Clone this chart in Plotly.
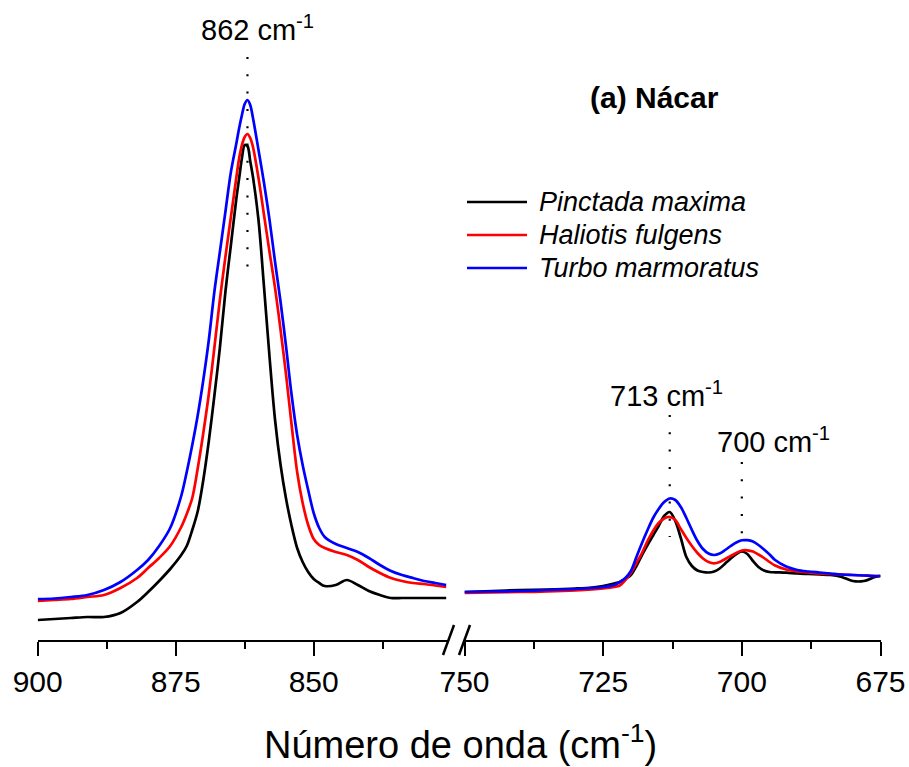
import plotly.graph_objects as go

# ---------------------------------------------------------------
# FTIR spectra of nacre (v2 carbonate region), broken wavenumber axis
# Left window: 900-826 cm-1, right window: 750-675 cm-1
# Intensities in arbitrary units
# ---------------------------------------------------------------

series_names = ["Pinctada maxima", "Haliotis fulgens", "Turbo marmoratus"]
series_colors = ["#000000", "#ff0000", "#0000ff"]

# --- left window (900-826 cm-1), common wavenumber grid ---
wn_left = [900, 897, 894, 891, 888, 885, 882, 880, 878, 876,
           874, 873, 872, 871, 870, 869, 868, 867, 866, 865,
           864, 863.5, 863, 862.5, 862, 861.5, 861, 860, 859, 858,
           857, 856, 855, 854, 853, 852, 851, 850, 849, 848,
           846, 844, 842, 840, 838, 836, 834, 832, 830, 828, 826]

int_left_pm = [20, 21, 22, 23, 23, 27, 38, 48, 59, 71,
               85, 94, 110, 129, 160, 199, 244, 292, 348, 395,
               442, 462, 482, 495, 494, 479, 463, 420, 353, 283,
               220, 175, 141, 114, 92, 78, 68, 61, 57, 54,
               55, 60, 55, 49, 45, 42, 42, 42, 42, 42, 42]

int_left_hf = [39, 40, 41, 43, 45, 52, 62, 72, 82, 94,
               113, 126, 142, 172, 207, 246, 292, 340, 383, 423,
               463, 482, 495, 503, 506, 502, 493, 462, 425, 388,
               352, 310, 265, 215, 168, 137, 115, 101, 95, 92,
               88, 85, 80, 73, 67, 62, 59, 57, 56, 54.5, 53]

int_left_tm = [41, 41.5, 43, 45, 50, 58, 70, 80, 94, 112,
               144, 168, 195, 225, 260, 300, 348, 388, 428, 468,
               497, 512, 525, 536, 540, 535, 522, 490, 457, 420,
               378, 338, 293, 245, 205, 175, 150, 127, 112, 103,
               96, 92, 88, 82, 75, 69, 65, 62, 59, 57, 55]

# --- right window (750-675 cm-1), common wavenumber grid ---
wn_right = [750, 745, 740, 735, 730, 727, 725, 723, 722, 721,
            720, 719, 718, 717, 716, 715, 714, 713, 712, 711,
            710, 709, 708, 707, 706, 705, 704, 703, 702, 701,
            700, 699, 698, 697, 696, 695, 694, 692, 690, 688,
            686, 684, 682, 680, 678, 676, 675]

int_right_pm = [48, 49, 50, 50.5, 51.5, 52.5, 54, 56.5, 58, 61,
                65, 74, 85, 95, 104.5, 114, 124, 128, 119, 102,
                83, 74, 69.5, 68, 67.5, 68.5, 71.5, 76.5, 81.5, 86,
                88.5, 86, 79, 73, 69.5, 68, 67.7, 67.3, 66.5, 66,
                65.5, 65, 63, 59, 59, 63, 64]

int_right_hf = [47, 47.5, 48, 48.5, 49.5, 50.5, 51.5, 53, 54.5, 60,
                67, 77, 87, 99, 109, 117, 121.5, 123, 120, 111,
                102, 94, 87, 81.5, 78, 76.7, 78, 81, 84, 87,
                89.5, 89.7, 88.5, 85.5, 82, 78, 74.5, 70.5, 68.5, 67.5,
                66.5, 66, 65.5, 65, 64.5, 64, 64]

int_right_tm = [48, 48.5, 49, 50, 51, 52, 53, 55, 58, 62,
                69, 83, 97, 110, 122, 131, 138, 141.5, 140, 133,
                122, 110, 99, 91, 86.5, 85, 86.5, 90, 94, 97.5,
                99.7, 99.8, 98.5, 95, 90.5, 85.5, 80, 73.5, 70, 68.5,
                67.5, 66.5, 65.5, 65, 64.5, 64, 64]

# peak markers: position (cm-1), dotted guide from/to (a.u.)
peak_pos = [862, 713, 700]
peak_guide_top = [583, 225, 178]
peak_guide_bottom = [360, 103, 93]

x_tick_left = [900, 875, 850]
x_minor_left = [887.5, 862.5, 837.5]
x_tick_right = [750, 725, 700, 675]
x_minor_right = [737.5, 712.5, 687.5]

W, H = 909, 767
PLOT_H = 640
FONT = "Liberation Sans, Arial, sans-serif"


def px(xp):
    return xp / W


def py(yp):
    return (PLOT_H - yp) / PLOT_H


fig = go.Figure()

left_sets = [int_left_pm, int_left_hf, int_left_tm]
right_sets = [int_right_pm, int_right_hf, int_right_tm]

for name, color, yl, yr in zip(series_names, series_colors, left_sets, right_sets):
    fig.add_trace(go.Scatter(x=wn_left, y=yl, mode="lines", name=name, showlegend=False,
                             line=dict(color=color, width=2.7, shape="spline", smoothing=0.9),
                             xaxis="x", yaxis="y"))
    fig.add_trace(go.Scatter(x=wn_right, y=yr, mode="lines", name=name, showlegend=False,
                             line=dict(color=color, width=2.7, shape="spline", smoothing=0.9),
                             xaxis="x2", yaxis="y"))

axis_style = dict(
    showline=True, linecolor="black", linewidth=2,
    ticks="outside", ticklen=14, tickwidth=2, tickcolor="black",
    showgrid=False, zeroline=False, automargin=False,
    tickfont=dict(family=FONT, size=30, color="black"),
    anchor="y",
)

fig.update_layout(
    width=W, height=H,
    margin=dict(l=0, r=0, t=0, b=H - PLOT_H, autoexpand=False),
    paper_bgcolor="white", plot_bgcolor="white",
    showlegend=False,
    xaxis=dict(domain=[px(37.7), px(448.5)], range=[900, 825.58],
               tickmode="array", tickvals=x_tick_left,
               minor=dict(ticks="outside", ticklen=7, tickwidth=2, tickcolor="black",
                          tickmode="array", tickvals=x_minor_left),
               **axis_style),
    xaxis2=dict(domain=[px(464.5), px(880.5)], range=[750, 675],
                tickmode="array", tickvals=x_tick_right,
                minor=dict(ticks="outside", ticklen=7, tickwidth=2, tickcolor="black",
                           tickmode="array", tickvals=x_minor_right),
                **axis_style),
    yaxis=dict(range=[0, PLOT_H], domain=[0, 1], visible=False, fixedrange=True,
               automargin=False),
)

# dotted guides at the band positions
axis_for = ["x", "x2", "x2"]
for pos, top, bot, xr in zip(peak_pos, peak_guide_top, peak_guide_bottom, axis_for):
    fig.add_shape(type="line", xref=xr, yref="y", x0=pos, x1=pos, y0=top, y1=bot,
                  line=dict(color="black", width=2.2, dash="2px,15.3px"))

# band labels
label_shift = [10, -3, 32]
label_y = [612, 246, 200]
for pos, xr, dx, yv in zip(peak_pos, axis_for, label_shift, label_y):
    fig.add_annotation(x=pos, y=yv, xref=xr, yref="y", xshift=dx,
                       text=f"{pos} cm<sup>-1</sup>", showarrow=False,
                       xanchor="center", yanchor="middle",
                       font=dict(family=FONT, size=29, color="black"))

# panel title
fig.add_annotation(x=px(654), y=py(98), xref="paper", yref="paper",
                   text="<b>(a) Nácar</b>", showarrow=False,
                   xanchor="center", yanchor="middle",
                   font=dict(family=FONT, size=30, color="black"))

# legend
legend_rows = [202, 235, 268]
for name, color, yrow in zip(series_names, series_colors, legend_rows):
    fig.add_shape(type="line", xref="paper", yref="paper",
                  x0=px(467), x1=px(527), y0=py(yrow), y1=py(yrow),
                  line=dict(color=color, width=2.7))
    fig.add_annotation(x=px(537), y=py(yrow), xref="paper", yref="paper",
                       text=f"<i>{name}</i>", showarrow=False,
                       xanchor="left", yanchor="middle",
                       font=dict(family=FONT, size=27, color="black"))

# axis break marks
for x0, x1 in [(443, 454), (459, 470)]:
    fig.add_shape(type="line", xref="paper", yref="paper",
                  x0=px(x0), x1=px(x1), y0=py(655), y1=py(625),
                  line=dict(color="black", width=2.5))

# x-axis title
fig.add_annotation(x=px(460), y=py(742), xref="paper", yref="paper",
                   text="Número de onda (cm<sup>-1</sup>)", showarrow=False,
                   xanchor="center", yanchor="middle",
                   font=dict(family=FONT, size=38, color="black"))

fig.write_html("out.html")
